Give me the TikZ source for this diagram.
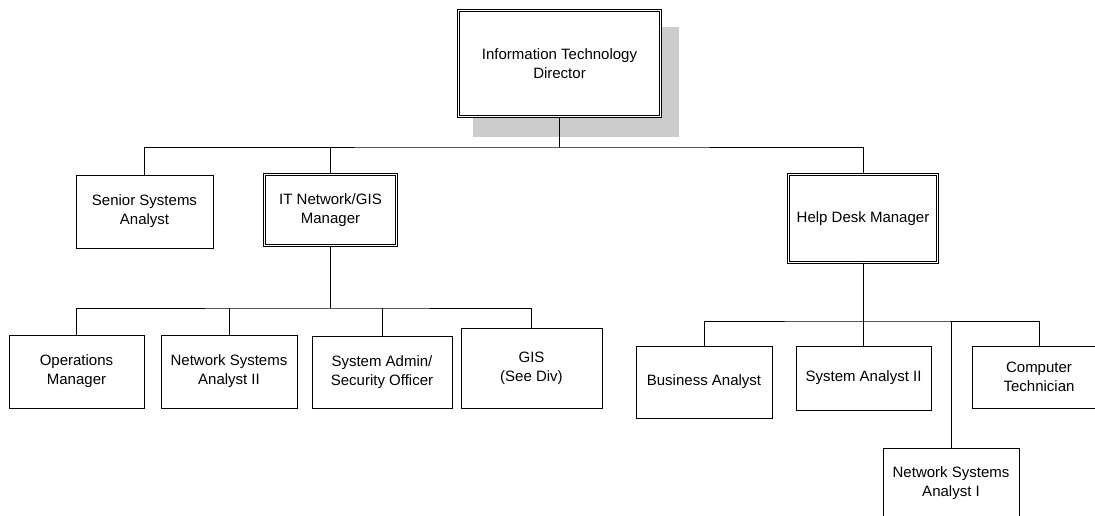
\documentclass[tikz,border=0pt]{standalone}
\usepackage{fontspec}
\setmainfont{Liberation Sans}
\begin{document}
\begin{tikzpicture}[x=1pt,y=-1pt,
  every node/.style={font=\fontsize{15}{19}\selectfont, align=center, inner sep=0pt},
  box/.style={draw=black, line width=0.9pt, fill=white, rectangle},
  dbox/.style={draw=black, line width=0.8pt, double=white, double distance=1.6pt, fill=white, rectangle},
  link/.style={draw=black, line width=0.9pt}]
\useasboundingbox (0,0) rectangle (1095,515);
\clip (0,0) rectangle (1095,515);
\fill[white] (0,0) rectangle (1095,515);

% drop shadow behind the director box
\fill[black!20] (473,27) rectangle (679,137);

% boxes
\node[dbox, minimum width=202pt, minimum height=106pt] (dir) at (559.5,63.5) {Information Technology\\Director};
\node[box, minimum width=137pt, minimum height=73pt] (sen) at (144.5,211.5) {Senior Systems\\Analyst};
\node[dbox, minimum width=132pt, minimum height=71pt] (itm) at (330.5,210) {IT Network/GIS\\Manager};
\node[dbox, minimum width=149pt, minimum height=88pt] (hdm) at (863,218.5) {Help Desk Manager};

\node[box, minimum width=135pt, minimum height=73pt] (ops) at (76.5,371.5) {Operations\\Manager};
\node[box, minimum width=136pt, minimum height=73pt] (nsa2) at (229,371.5) {Network Systems\\Analyst II};
\node[box, minimum width=140pt, minimum height=72pt] (sys) at (382,372) {System Admin/\\Security Officer};
\node[box, minimum width=141pt, minimum height=80pt] (gis) at (531.5,368) {GIS\\(See Div)};

\node[box, minimum width=136pt, minimum height=72pt] (bus) at (704,382) {Business Analyst};
\node[box, minimum width=135pt, minimum height=64pt] (sa2) at (863.5,378) {System Analyst II};
\node[box, minimum width=134pt, minimum height=62pt] (ct) at (1039,377) {Computer\\Technician};
\node[box, minimum width=136pt, minimum height=70pt] (nsa1) at (951,483) {Network Systems\\Analyst I};

% bus lines
\coordinate (b1) at (559.5,147);
\coordinate (b2) at (330.5,308);
\coordinate (b3) at (863,321);

% director level
\draw[link] (dir.south) -- (b1);
\draw[link] (sen.north) |- (b1) -| (hdm.north);
\draw[link] (itm.north) -- (itm.north |- b1);

% IT network branch
\draw[link] (itm.south) -- (b2);
\draw[link] (ops.north) |- (b2) -| (gis.north);
\draw[link] (nsa2.north) -- (nsa2.north |- b2);
\draw[link] (sys.north) -- (sys.north |- b2);

% help desk branch
\draw[link] (hdm.south) -- (b3);
\draw[link] (bus.north) |- (b3) -| (ct.north);
\draw[link] (sa2.north) -- (sa2.north |- b3);
\draw[link] (nsa1.north) -- (nsa1.north |- b3);
\end{tikzpicture}
\end{document}
